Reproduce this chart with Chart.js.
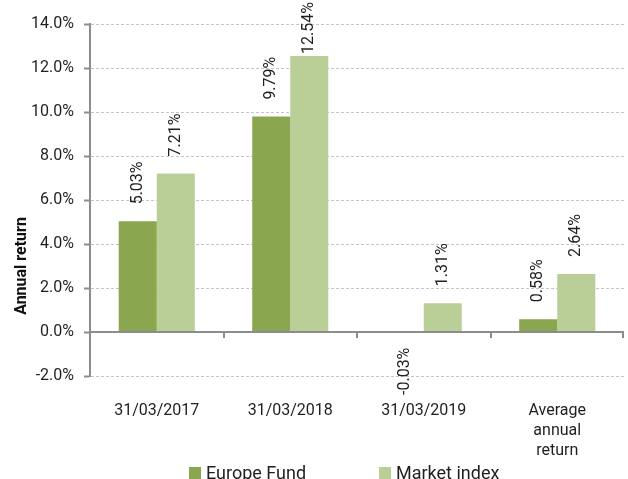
<!DOCTYPE html>
<html>
<head>
<meta charset="utf-8">
<script src="https://cdn.jsdelivr.net/npm/chart.js@4"></script>
<style>
    body { margin: 0; background: #fff; }
    #wrap { width: 628px; height: 479px; position: relative; }
</style>
</head>
<body>
<div id="wrap"><canvas id="returnChart"></canvas></div>
<script>
// Chart data
const categories = ['31/03/2017', '31/03/2018', '31/03/2019', ['Average', 'annual', 'return']];
const fundReturns = [5.03, 9.79, -0.03, 0.58];
const indexReturns = [7.21, 12.54, 1.31, 2.64];
const seriesNames = ['Europe Fund', 'Market index'];
const yTicks = [-2, 0, 2, 4, 6, 8, 10, 12, 14];

const FONT = 'Roboto, "Liberation Sans", sans-serif';
const AXIS_GREY = '#8c8c8c';

// Zero line, axis title, rotated value labels and legend
const extrasPlugin = {
    id: 'extras',
    afterDatasetsDraw(chart) {
        const ctx = chart.ctx;
        const area = chart.chartArea;
        const yScale = chart.scales.y;
        const y0 = yScale.getPixelForValue(0);

        // zero line with category boundary ticks
        ctx.save();
        ctx.strokeStyle = AXIS_GREY;
        ctx.lineWidth = 2;
        ctx.beginPath();
        ctx.moveTo(area.left, y0);
        ctx.lineTo(area.right, y0);
        const step = (area.right - area.left) / categories.length;
        for (let i = 1; i <= categories.length; i++) {
            const x = Math.round(area.left + step * i) - (i === categories.length ? 1 : 0);
            ctx.moveTo(x, y0);
            ctx.lineTo(x, y0 + 6);
        }
        ctx.stroke();
        ctx.restore();

        // value labels
        ctx.save();
        ctx.font = '16px ' + FONT;
        ctx.fillStyle = '#1f1f1f';
        ctx.textBaseline = 'middle';
        chart.data.datasets.forEach((ds, di) => {
            const meta = chart.getDatasetMeta(di);
            meta.data.forEach((bar, i) => {
                const v = ds.data[i];
                const text = v.toFixed(2) + '%';
                const w = ctx.measureText(text).width;
                ctx.save();
                if (v >= 0) {
                    let ay = bar.y - 17;
                    if (ay - w < 2) ay = 2 + w;
                    ctx.translate(bar.x, ay);
                    ctx.rotate(-Math.PI / 2);
                    ctx.textAlign = 'left';
                } else {
                    ctx.translate(bar.x, Math.max(bar.y, y0) + 15);
                    ctx.rotate(-Math.PI / 2);
                    ctx.textAlign = 'right';
                }
                ctx.fillText(text, 0, 0);
                ctx.restore();
            });
        });
        ctx.restore();

        // axis title
        ctx.save();
        ctx.font = 'bold 16px ' + FONT;
        ctx.fillStyle = '#111';
        ctx.textAlign = 'center';
        ctx.textBaseline = 'middle';
        ctx.translate(22, 266);
        ctx.rotate(-Math.PI / 2);
        ctx.fillText('Annual return', 0, 0);
        ctx.restore();

        // legend
        ctx.save();
        ctx.font = '18px ' + FONT;
        ctx.textBaseline = 'middle';
        ctx.textAlign = 'left';
        const legendX = [189, 379];
        chart.data.datasets.forEach((ds, di) => {
            ctx.fillStyle = ds.backgroundColor;
            ctx.fillRect(legendX[di], 467, 12, 12);
            ctx.fillStyle = '#1f1f1f';
            ctx.fillText(ds.label, legendX[di] + 17, 474);
        });
        ctx.restore();
    }
};

new Chart(document.getElementById('returnChart'), {
    type: 'bar',
    data: {
        labels: categories,
        datasets: [
            {
                label: seriesNames[0],
                data: fundReturns,
                backgroundColor: '#8aa64f'
            },
            {
                label: seriesNames[1],
                data: indexReturns,
                backgroundColor: '#bacf98'
            }
        ]
    },
    options: {
        responsive: true,
        maintainAspectRatio: false,
        animation: false,
        layout: {
            padding: { top: 24, right: 4, left: 0, bottom: 0 }
        },
        datasets: {
            bar: {
                categoryPercentage: 0.57,
                barPercentage: 1.0
            }
        },
        scales: {
            x: {
                afterFit: function(scale) { scale.height = 103; },
                grid: { display: false },
                border: { display: false },
                ticks: {
                    padding: 17,
                    color: '#1f1f1f',
                    font: { family: FONT, size: 16, lineHeight: 1.25 },
                    maxRotation: 0,
                    autoSkip: false
                }
            },
            y: {
                min: -2,
                max: 14,
                afterFit: function(scale) { scale.width = 90; },
                afterBuildTicks: function(scale) {
                    scale.ticks = yTicks.map(v => ({ value: v }));
                },
                grid: {
                    color: '#c4c4c4',
                    tickColor: AXIS_GREY,
                    tickLength: 6,
                    tickWidth: 2,
                    tickBorderDash: []
                },
                border: {
                    display: true,
                    color: AXIS_GREY,
                    width: 2,
                    dash: [3, 2]
                },
                ticks: {
                    padding: 10,
                    color: '#1f1f1f',
                    font: { family: FONT, size: 16 },
                    callback: v => v.toFixed(1) + '%'
                }
            }
        },
        plugins: {
            legend: { display: false },
            tooltip: { enabled: false }
        }
    },
    plugins: [extrasPlugin]
});
</script>
</body>
</html>
